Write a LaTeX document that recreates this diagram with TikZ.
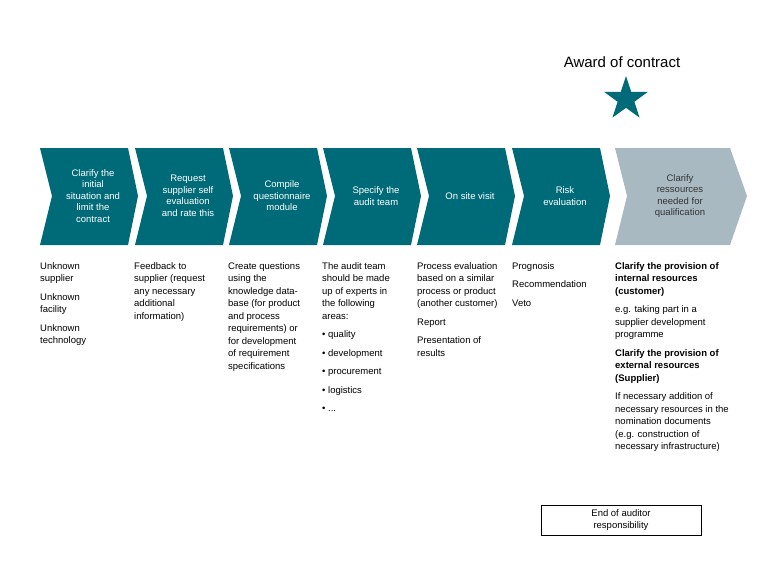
\documentclass[tikz,border=0pt]{standalone}
\usepackage{fontspec}
\setmainfont{Liberation Sans}
\usetikzlibrary{shapes.geometric}
\definecolor{teal1}{HTML}{006B78}
\definecolor{grey1}{HTML}{A9B9C1}
\begin{document}
\begin{tikzpicture}[x=1pt,y=-1pt,
  lbl/.style={text=white,align=center,font=\fontsize{9.5}{11.5}\selectfont},
  col/.style={anchor=north west,align=left,inner sep=0pt,font=\fontsize{9.5}{12.5}\selectfont}]
\useasboundingbox (0,0) rectangle (768,576);
\fill[white] (0,0) rectangle (768,576);
\foreach \x/\n in {40/a,135/b,229/c,323/d,417/e,512/f}{
  \fill[teal1] (\x,148) -- (\x+88,148) -- (\x+98,196) -- (\x+88,245) -- (\x,245) -- (\x+12,196) -- cycle;
  \coordinate (\n) at (\x+53,196);
}
\fill[grey1] (615,148) -- (730,148) -- (747,196) -- (730,245) -- (615,245) -- (627,196) -- cycle;
\coordinate (g) at (680,196);
\node[lbl] at (a) {Clarify the\\initial\\situation and\\limit the\\contract};
\node[lbl] at (b) {Request\\supplier self\\evaluation\\and rate this};
\node[lbl] at (c) {Compile\\questionnaire\\module};
\node[lbl] at (d) {Specify the\\audit team};
\node[lbl] at (e) {On site visit};
\node[lbl] at (f) {Risk\\evaluation};
\node[lbl,text=black!80] at (g) {Clarify\\ressources\\needed for\\qualification};
\node (award) at (622,62) {\fontsize{15}{18}\selectfont Award of contract};
\node[star,star points=5,star point ratio=2.6,fill=teal1,minimum size=46pt,inner sep=0pt] (st) at (626,99) {};
\node[col] (t1) at (40,262) {Unknown\\supplier\\[6pt]Unknown\\facility\\[6pt]Unknown\\technology};
\node[col] (t2) at (134,262) {Feedback to\\supplier (request\\any necessary\\additional\\information)};
\node[col] (t3) at (228,262) {Create questions\\using the\\knowledge data-\\base (for product\\and process\\requirements) or\\for development\\of requirement\\specifications};
\node[col] (t4) at (322,262) {The audit team\\should be made\\up of experts in\\the following\\areas:\\[6pt]\textbullet\ quality\\[6pt]\textbullet\ development\\[6pt]\textbullet\ procurement\\[6pt]\textbullet\ logistics\\[6pt]\textbullet\ ...};
\node[col] (t5) at (417,262) {Process evaluation\\based on a similar\\process or product\\(another customer)\\[6pt]Report\\[6pt]Presentation of\\results};
\node[col] (t6) at (512,262) {Prognosis\\[6pt]Recommendation\\[6pt]Veto};
\node[col] (t7) at (615,262) {\textbf{Clarify the provision of}\\\textbf{internal resources}\\\textbf{(customer)}\\[6pt]e.g. taking part in a\\supplier development\\programme\\[6pt]\textbf{Clarify the provision of}\\\textbf{external resources}\\\textbf{(Supplier)}\\[6pt]If necessary addition of\\necessary resources in the\\nomination documents\\(e.g. construction of\\necessary infrastructure)};
\node[draw=black,minimum width=160pt,minimum height=30pt,align=center,font=\fontsize{9.5}{12}\selectfont] (end) at (621,520) {End of auditor\\responsibility};
\end{tikzpicture}
\end{document}
